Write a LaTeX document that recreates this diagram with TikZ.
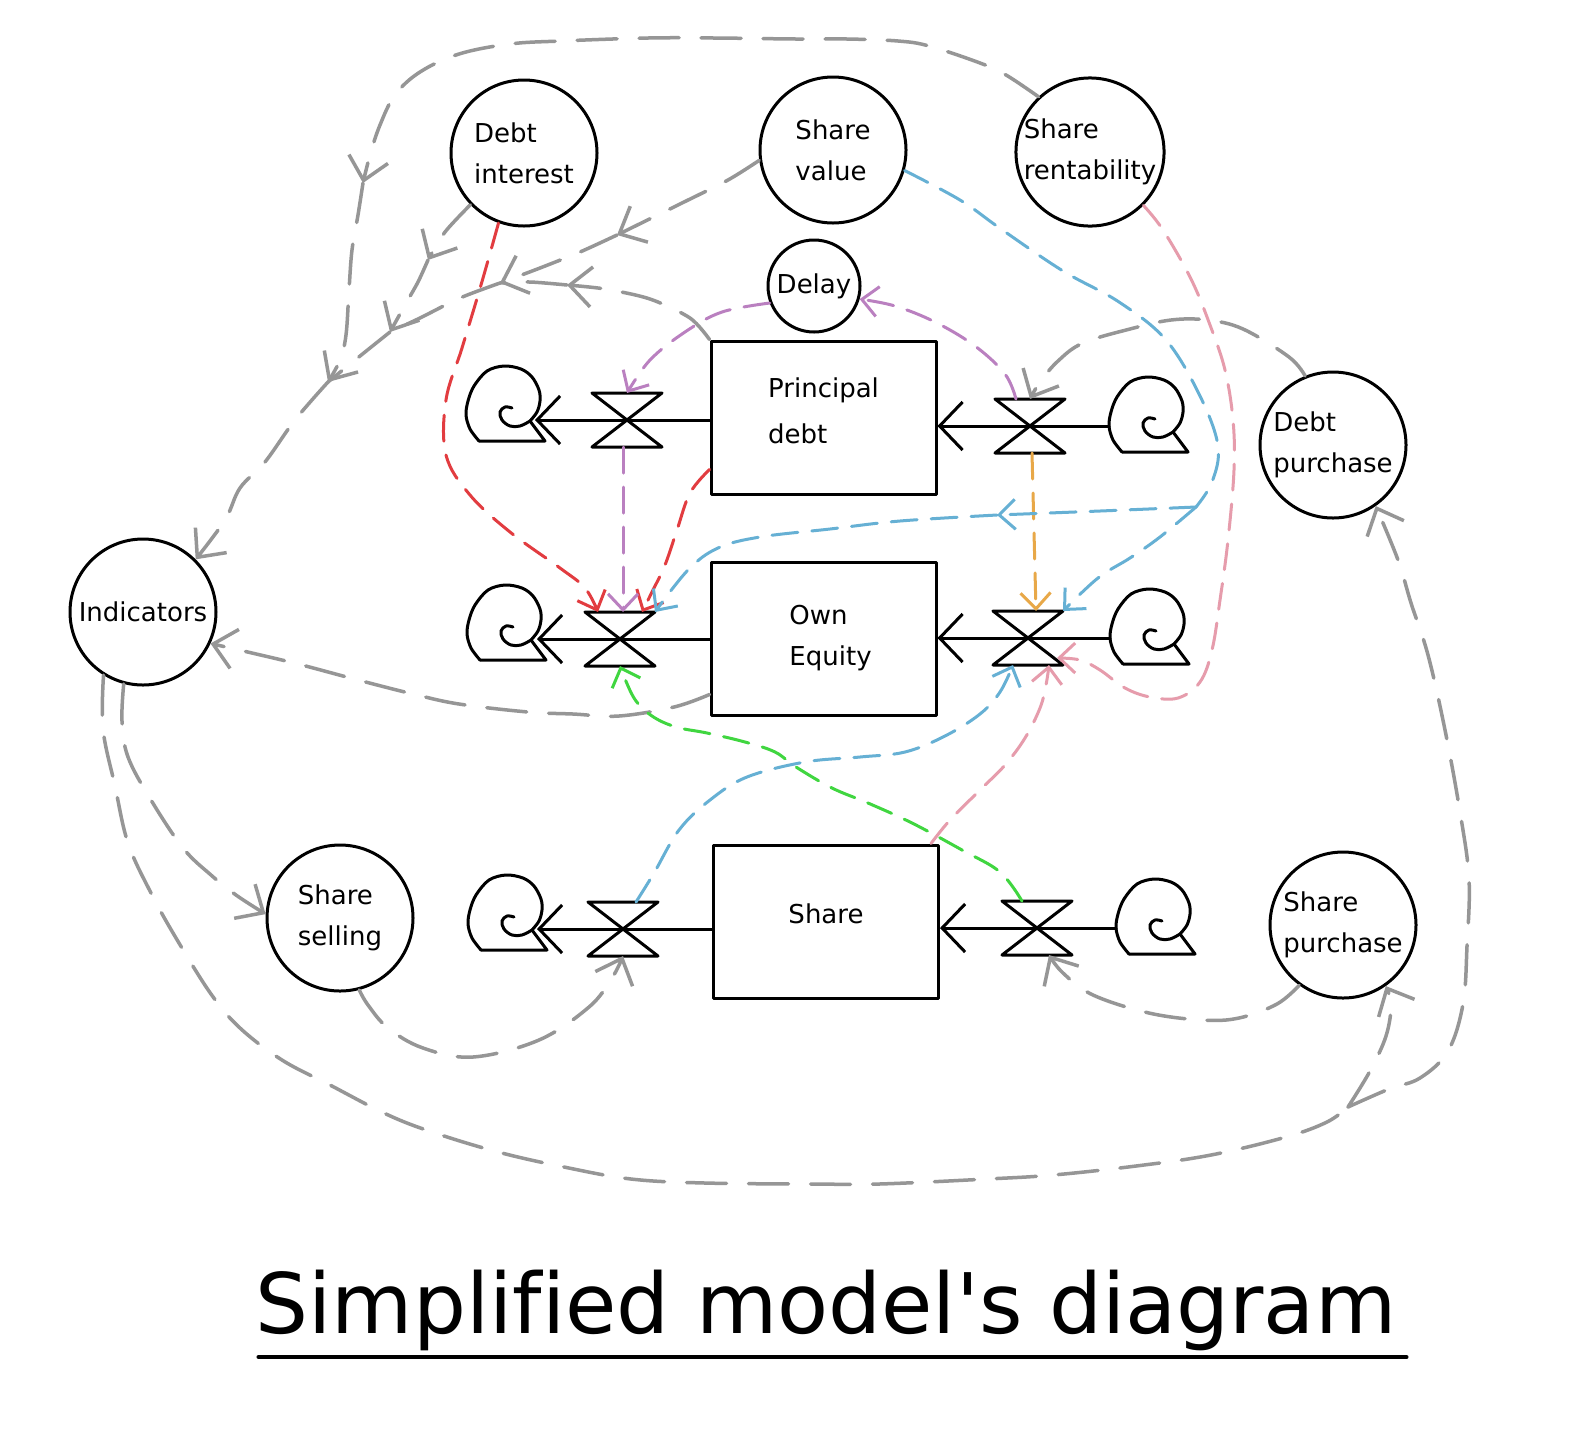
\documentclass[tikz,border=0pt]{standalone}
\usepackage{fontspec}
\setmainfont{DejaVu Sans}
\newfontfamily\titlefont{DejaVu Sans}[Ligatures={TeXOff,NoCommon}]
\usetikzlibrary{arrows.meta}

\definecolor{linkgray}{RGB}{150,150,150}
\definecolor{linkred}{RGB}{226,60,64}
\definecolor{linkpurple}{RGB}{186,128,192}
\definecolor{linkblue}{RGB}{102,176,212}
\definecolor{linkorange}{RGB}{232,168,72}
\definecolor{linkgreen}{RGB}{64,214,64}
\definecolor{linkpink}{RGB}{230,156,172}

\tikzset{
  aux/.style={circle, draw, line width=3pt, minimum size=146pt, inner sep=0pt,
    align=left, font=\fontsize{26}{41}\selectfont},
  stock/.style={rectangle, draw, line width=3pt, minimum width=225pt,
    minimum height=153pt, inner sep=0pt, align=left, font=\fontsize{26}{41}\selectfont},
  valve/.style={rectangle, minimum width=70pt, minimum height=54pt, inner sep=0pt, outer sep=0pt},
  flow/.style={line width=3pt, -{Straight Barb[length=23pt,width=48pt]}},
  link/.style={line width=3pt, dash pattern=on 26pt off 14pt},
  ltip/.style={-{Straight Barb[length=16pt,width=30pt]}},
  glink/.style={linkgray, line width=3.5pt, dash pattern=on 40pt off 22pt},
  gtip/.style={-{Straight Barb[length=22pt,width=40pt]}},
  cloudsym/.pic={
    \draw[line width=3pt] plot[smooth,tension=0.55] coordinates {(13,26) (4,14) (0,0) (2,-14) (8,-29)
      (21,-44) (38,-49) (55,-46) (66,-38) (73,-25) (74,-14) (71,-3) (64,6)};
    \draw[line width=3pt] plot[smooth,tension=0.6] coordinates {(64,6) (54,11) (44,11) (36,5) (34,-3)
      (39,-8) (46,-7)};
    \draw[line width=3pt] (64,6) -- (79,26) -- (13,26);
  }
}

\begin{document}
\begin{tikzpicture}[x=1pt, y=-1pt, line cap=round, line join=round]
  \fill[white] (0,0) rectangle (1586,1428);
  \useasboundingbox (0,0) rectangle (1586,1428);

  % Auxiliaries
  \node[aux] (debtint) at (524,153) {Debt\\interest};
  \node[aux] (shareval) at (833,150) {Share\\value};
  \node[aux] (sharerent) at (1090,152) {Share\\rentability};
  \node[aux, minimum size=92pt] (delay) at (814,286) {Delay};
  \node[aux] (debtpur) at (1333,445) {Debt\\purchase};
  \node[aux] (indic) at (143,612) {Indicators};
  \node[aux] (sharesell) at (340,918) {Share\\selling};
  \node[aux] (sharepur) at (1343,925) {Share\\purchase};

  % Stocks
  \node[stock] (pdebt) at (823.5,417.5) {Principal\\[5pt]debt\\[-27pt]};
  \node[stock] (oequity) at (823.5,638.5) {\hspace*{14pt}Own\\\hspace*{14pt}Equity};
  \node[stock] (share) at (826,921.5) {Share\\[-26pt]};

  % Valves
  \node[valve] (v1L) at (627,420) {};
  \node[valve] (v1R) at (1030,426) {};
  \node[valve] (v2L) at (620,639) {};
  \node[valve] (v2R) at (1028,638) {};
  \node[valve] (v3L) at (623,929) {};
  \node[valve] (v3R) at (1037,928) {};

  % Clouds
  \coordinate (c1L) at (535,420);
  \coordinate (c2L) at (537,639);
  \coordinate (c3L) at (537,929);
  \coordinate (c1R) at (1109,426);
  \coordinate (c2R) at (1110,638);
  \coordinate (c3R) at (1116,928);
  \pic at (466,415) {cloudsym};
  \pic at (467,634) {cloudsym};
  \pic at (468,924) {cloudsym};
  \pic at (c1R) {cloudsym};
  \pic at (c2R) {cloudsym};
  \pic at (c3R) {cloudsym};

  % Flows
  \draw[flow] (v1L -| pdebt.west) -- (c1L);
  \draw[flow] (c1R) -- (v1R -| pdebt.east);
  \draw[flow] (v2L -| oequity.west) -- (c2L);
  \draw[flow] (c2R) -- (v2R -| oequity.east);
  \draw[flow] (v3L -| share.west) -- (c3L);
  \draw[flow] (c3R) -- (v3R -| share.east);
  \foreach \v in {v1L,v1R,v2L,v2R,v3L,v3R}
    \draw[line width=3pt] (\v.north west) -- (\v.north east) -- (\v.south west)
      -- (\v.south east) -- cycle;

  % Junctions of the grey links
  \coordinate (gmid1) at (363,183);
  \coordinate (gmid2) at (428,260);
  \coordinate (gmid3) at (617,235);
  \coordinate (gmid4) at (567,285);
  \coordinate (gj1) at (500,283);
  \coordinate (gj2) at (390,332);
  \coordinate (gmerge) at (328,382);
  \coordinate (gsplit) at (1348,1107);

  % Grey links
  \draw[glink,gtip] plot[smooth,tension=0.6] coordinates {(sharerent.133) (1006,75) (980,63)
    (929,46) (898,41) (847,39) (796,39) (714,38) (648,38) (561,41) (510,44) (459,54) (420,72)
    (395,95) (380,125) (370,155) (gmid1)};
  \draw[glink,gtip] plot[smooth,tension=0.6] coordinates {(gmid1) (358,215) (352,250) (349,290)
    (346,335) (340,360) (gmerge)};
  \draw[glink,gtip] plot[smooth] coordinates {(debtint.-136) (445,232) (gmid2)};
  \draw[glink,gtip] plot[smooth] coordinates {(gmid2) (418,282) (405,305) (gj2)};
  \draw[glink,gtip] plot[smooth] coordinates {(shareval.188) (728,180) (680,204) (gmid3)};
  \draw[glink,gtip] plot[smooth] coordinates {(gmid3) (580,252) (540,268) (gj1)};
  \draw[glink,gtip] plot[smooth] coordinates {(pdebt.north west) (690,318) (650,299) (605,289) (gmid4)};
  \draw[glink] plot[smooth] coordinates {(gmid4) (530,282) (gj1)};
  \draw[glink] plot[smooth] coordinates {(gj1) (460,298) (420,318) (gj2)};
  \draw[glink] plot[smooth] coordinates {(gj2) (365,352) (gmerge)};
  \draw[glink,gtip] plot[smooth,tension=0.6] coordinates {(gmerge) (295,420) (265,462) (240,488)
    (225,520) (indic.45)};
  \draw[glink,gtip] plot[smooth,tension=0.6] coordinates {([yshift=-56pt]oequity.west) (674,707)
    (619,716) (573,714) (528,712) (459,704) (413,694) (358,680) (298,664) (252,653) (indic.-25)};
  \draw[glink,gtip] plot[smooth,tension=0.6] coordinates {(indic.-105) (122,721) (128,757)
    (151,800) (183,848) (211,875) (236,895) (sharesell.177)};
  \draw[glink] plot[smooth,tension=0.6] coordinates {(indic.-122) (103,729) (115,786) (128,843)
    (151,893) (176,938) (211,994) (240,1028) (282,1060) (330,1085) (386,1114) (432,1132)
    (498,1152) (564,1167) (631,1179) (705,1183) (813,1184) (879,1184) (987,1179) (1053,1175)
    (1136,1166) (1211,1155) (1286,1137) (1327,1122) (gsplit)};
  \draw[glink,gtip] plot[smooth,tension=0.6] coordinates {(gsplit) (1370,1071) (1386,1036)
    (1391,1005) (sharepur.-55)};
  \draw[glink,gtip] plot[smooth,tension=0.6] coordinates {(gsplit) (1389,1089) (1420,1078)
    (1448,1051) (1463,1004) (1467,946) (1469,879) (1460,812) (1445,730) (1428,655) (1411,603)
    (1398,560) (debtpur.-55)};
  \draw[glink,gtip] plot[smooth,tension=0.6] coordinates {(sharesell.-75) (368,1005) (388,1028)
    (423,1048) (473,1057) (539,1040) (589,1007) (612,978) (v3L.south)};
  \draw[glink,gtip] plot[smooth,tension=0.6] coordinates {(sharepur.-126) (1277,1004) (1239,1018)
    (1202,1020) (1149,1013) (1093,995) (1063,973) ([xshift=12pt]v3R.south)};
  \draw[glink,gtip] plot[smooth,tension=0.6] coordinates {(debtpur.112) (1289,357) (1243,329)
    (1207,320) (1171,320) (1130,329) (1083,343) (1058,361) (1040,382) (v1R.north)};

  % Coloured links
  \draw[link,ltip,linkred] plot[smooth,tension=0.6] coordinates {(debtint.-110) (481,285) (462,348)
    (446,400) (446,455) (470,495) (510,532) (560,568) (585,588) ([xshift=-22pt]v2L.north)};
  \draw[link,ltip,linkred] plot[smooth,tension=0.6] coordinates {([yshift=-52pt]pdebt.west)
    (690,493) (677,530) (665,565) (653,590) ([xshift=22pt]v2L.north)};
  \draw[link,ltip,linkpurple] ([xshift=-4pt]v1L.south) -- ([xshift=3pt]v2L.north);
  \draw[link,ltip,linkpurple] plot[smooth,tension=0.6] coordinates {(delay.201) (722,312)
    (685,332) (650,360) (v1L.north)};
  \draw[link,ltip,linkpurple] plot[smooth,tension=0.6] coordinates {([xshift=-14pt]v1R.north)
    (1005,374) (975,346) (935,322) (895,306) (delay.-16)};
  \draw[link,ltip,linkorange] ([xshift=2pt]v1R.south) -- ([xshift=8pt]v2R.north);

  \coordinate (bsplit) at (1196,507);
  \coordinate (bmid) at (997,515);
  \draw[link,linkblue] plot[smooth,tension=0.6] coordinates {(shareval.-16) (960,200) (1001,229)
    (1063,271) (1119,302) (1166,340) (1200,396) (1218,446) (1212,482) (bsplit)};
  \draw[link,ltip,linkblue] plot[smooth,tension=0.6] coordinates {(bsplit) (1160,537) (1130,558)
    (1098,578) ([xshift=35pt]v2R.north)};
  \draw[link,ltip,linkblue] plot[smooth] coordinates {(bsplit) (1100,511) (bmid)};
  \draw[link,ltip,linkblue] plot[smooth,tension=0.6] coordinates {(bmid) (900,521) (830,529)
    (760,537) (718,548) (688,570) (v2L.north east)};
  \draw[link,ltip,linkblue] plot[smooth,tension=0.6] coordinates {([xshift=13pt]v3L.north)
    (654,873) (679,830) (710,800) (747,777) (805,762) (860,757) (905,752) (945,736) (980,714)
    (1000,692) ([xshift=-15pt]v2R.south)};

  \draw[link,ltip,linkpink] plot[smooth,tension=0.6] coordinates {(sharerent.-45) (1163,230)
    (1191,279) (1210,325) (1225,370) (1233,420) (1234,470) (1228,540) (1220,600) (1212,650)
    (1200,682) (1178,698) (1150,697) (1125,688) (1100,670) (1080,660)
    ([shift={(29pt,-20pt)}]v2R.center)};
  \draw[link,ltip,linkpink] plot[smooth,tension=0.6] coordinates {([xshift=-9pt]share.north east)
    (950,820) (980,790) (1005,765) (1025,738) (1040,708) (1046,685) ([xshift=21pt]v2R.south)};
  \draw[link,ltip,linkgreen] plot[smooth,tension=0.6] coordinates {([xshift=-15pt]v3R.north)
    (1000,872) (962,850) (912,823) (868,803) (832,788) (796,767) (775,752) (745,742) (707,733)
    (676,727) (652,716) (634,698) (v2L.south)};

  % Title
  \node[font=\titlefont\fontsize{83.5}{100}\selectfont, inner sep=0pt, anchor=base] (title)
    at (826,1333) {Simplified model's diagram};
  \draw[line width=4pt] ([shift={(3pt,-24pt)}]title.base west) -- ([shift={(10pt,-24pt)}]title.base east);
\end{tikzpicture}
\end{document}
